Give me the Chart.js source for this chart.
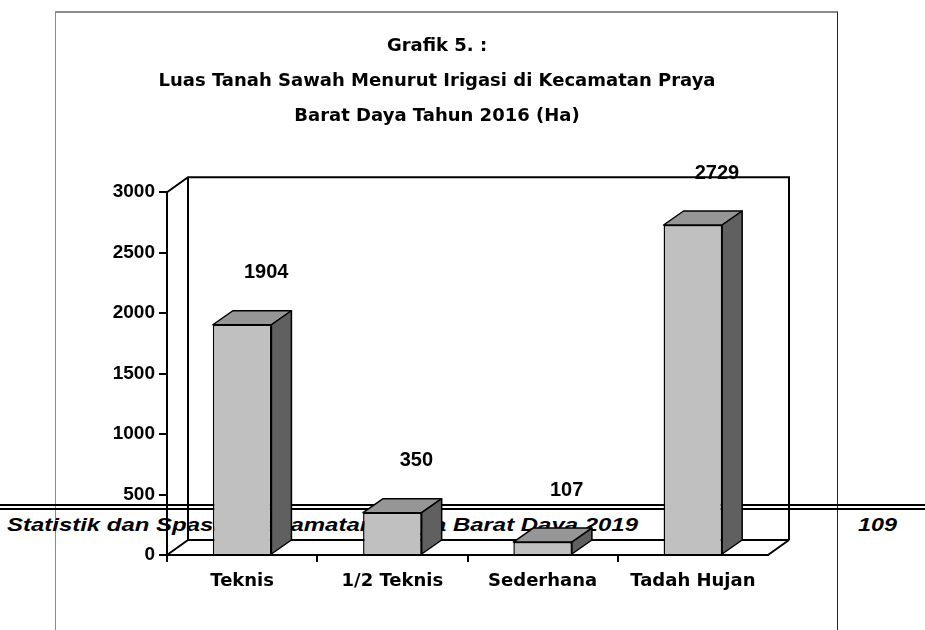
<!DOCTYPE html>
<html>
<head>
<meta charset="utf-8">
<script src="https://cdn.jsdelivr.net/npm/chart.js@4.4.1/dist/chart.umd.min.js"></script>
<style>
  body { margin: 0; background: #fff; }
  #wrap { position: relative; width: 925px; height: 630px; overflow: hidden; }
  #frame { position: absolute; left: 55px; top: 11px; width: 781px; height: 640px;
           border-left: 1px solid #8a8a8a; border-top: 2px solid #8a8a8a; border-right: 1px solid #222; }
  .rule { position: absolute; left: 0; width: 925px; height: 2px; background: #000; }
  .foot { position: absolute; top: 515px; font: italic bold 18px "Liberation Sans", Arial, sans-serif;
          color: #000; white-space: nowrap; transform-origin: 0 0; }
  canvas { position: absolute; left: 0; top: 0; }
</style>
</head>
<body>
<div id="wrap">
  <div id="frame"></div>
  <div class="rule" style="top:504px"></div>
  <div class="rule" style="top:508px"></div>
  <span class="foot" id="footL" style="left:7px">Statistik dan Spasial Kecamatan Praya Barat Daya 2019</span>
  <span class="foot" id="footR" style="left:858px">109</span>
  <canvas id="chart" width="925" height="630"></canvas>
</div>
<script>
const categories = ['Teknis', '1/2 Teknis', 'Sederhana', 'Tadah Hujan'];
const luasSawah = [1904, 350, 107, 2729];
const titleLines = ['Grafik 5. :', 'Luas Tanah Sawah Menurut Irigasi di Kecamatan Praya', 'Barat Daya Tahun 2016 (Ha)'];
const yMax = 3000;
const yStep = 500;

// footer text in the source page is drawn wide, stretch to its width
function stretch(id, w) {
  const el = document.getElementById(id);
  el.style.transform = 'scaleX(' + (w / el.getBoundingClientRect().width) + ')';
}
stretch('footL', 631);
stretch('footR', 39);

const FONT = 'DejaVu Sans';
const NUMFONT = 'Liberation Sans';
const wall = { dx: 21, dy: 15 };
const box = { dx: 20, dy: 14 };

function line(ctx, pts) {
  ctx.beginPath();
  ctx.moveTo(pts[0][0], pts[0][1]);
  for (let i = 1; i < pts.length; i++) ctx.lineTo(pts[i][0], pts[i][1]);
  ctx.stroke();
}

function poly(ctx, pts, fill) {
  ctx.beginPath();
  ctx.moveTo(pts[0][0], pts[0][1]);
  for (let i = 1; i < pts.length; i++) ctx.lineTo(pts[i][0], pts[i][1]);
  ctx.closePath();
  ctx.fillStyle = fill;
  ctx.fill();
  ctx.stroke();
}

const wallPlugin = {
  id: 'wall3d',
  beforeDatasetsDraw(chart) {
    const { ctx, chartArea: a } = chart;
    const l = a.left, r = a.right, t = a.top, b = a.bottom;
    ctx.save();
    ctx.strokeStyle = '#000';
    ctx.lineWidth = 2;
    line(ctx, [[l, t], [l + wall.dx, t - wall.dy], [r + wall.dx, t - wall.dy], [r + wall.dx, b - wall.dy]]);
    line(ctx, [[l + wall.dx, t - wall.dy], [l + wall.dx, b - wall.dy], [r + wall.dx, b - wall.dy]]);
    line(ctx, [[l, b], [l + wall.dx, b - wall.dy]]);
    line(ctx, [[r, b], [r + wall.dx, b - wall.dy]]);
    ctx.restore();
  },
  afterDatasetsDraw(chart) {
    const ctx = chart.ctx;
    const meta = chart.getDatasetMeta(0);
    ctx.save();
    ctx.strokeStyle = '#000';
    ctx.lineWidth = 1.5;
    ctx.lineJoin = 'round';
    meta.data.forEach((bar, i) => {
      const x0 = bar.x - bar.width / 2, x1 = bar.x + bar.width / 2;
      const y = bar.y, base = bar.base;
      poly(ctx, [[x0, y], [x0 + box.dx, y - box.dy], [x1 + box.dx, y - box.dy], [x1, y]], '#969696');
      poly(ctx, [[x1, y], [x1 + box.dx, y - box.dy], [x1 + box.dx, base - box.dy], [x1, base]], '#606060');
      ctx.fillStyle = '#000';
      ctx.font = 'bold 20px ' + NUMFONT;
      ctx.textAlign = 'center';
      ctx.textBaseline = 'middle';
      ctx.fillText(String(luasSawah[i]), bar.x + 24, y - 52);
    });
    ctx.restore();
  }
};

new Chart(document.getElementById('chart'), {
  type: 'bar',
  data: {
    labels: categories,
    datasets: [{
      data: luasSawah,
      backgroundColor: '#c0c0c0',
      borderColor: '#000',
      borderWidth: 1.5,
      categoryPercentage: 1,
      barPercentage: 0.39
    }]
  },
  options: {
    responsive: false,
    animation: false,
    layout: { padding: { left: 106, right: 157, top: 0, bottom: 0 } },
    plugins: {
      legend: { display: false },
      tooltip: { enabled: false },
      title: {
        display: true,
        text: titleLines,
        color: '#000',
        font: { family: FONT, size: 18, weight: 'bold', lineHeight: 1.93 },
        padding: { top: 29, bottom: 59 }
      }
    },
    scales: {
      x: {
        afterFit: s => { s.height = 75; },
        grid: {
          drawOnChartArea: false,
          tickLength: 7,
          lineWidth: 2,
          color: c => c.type === 'tick' ? '#000' : 'rgba(0,0,0,0)'
        },
        border: { display: true, color: '#000', width: 2 },
        ticks: { color: '#000', padding: 9, font: { family: FONT, size: 18, weight: 'bold' } }
      },
      y: {
        min: 0,
        max: yMax,
        afterFit: s => { s.width = 61; },
        grid: { drawOnChartArea: false, tickLength: 8, lineWidth: 2, color: '#000' },
        border: { display: true, color: '#000', width: 2 },
        ticks: {
          stepSize: yStep,
          color: '#000',
          padding: 4,
          font: { family: NUMFONT, size: 19, weight: 'bold' },
          callback: v => String(v)
        }
      }
    }
  },
  plugins: [wallPlugin]
});
</script>
</body>
</html>
